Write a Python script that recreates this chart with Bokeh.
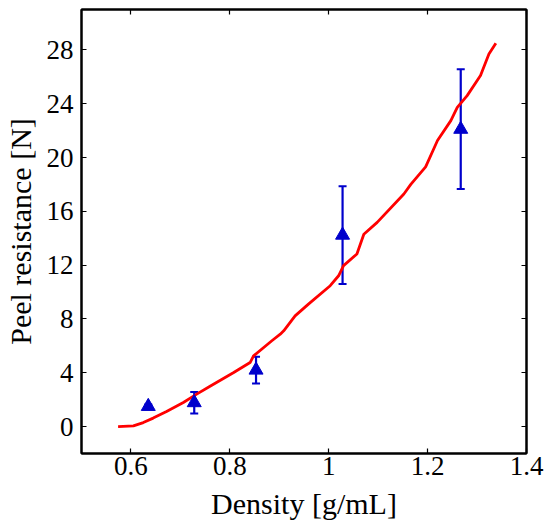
from bokeh.plotting import figure
from bokeh.models import (LinearAxis, FixedTicker, CustomJSTickFormatter, Whisker,
                          ColumnDataSource, Range1d, TeeHead)
from bokeh.embed import file_html
from bokeh.resources import INLINE

# measured data (triangles with error bars)
density = [0.635, 0.728, 0.853, 1.028, 1.267]
peel = [1.5, 1.78, 4.2, 14.23, 22.1]
peel_err = [0.15, 0.8, 1.0, 3.63, 4.45]

# model curve (red)
curve_density = [0.574, 0.605, 0.625, 0.645, 0.672, 0.706, 0.733, 0.760, 0.807,
                 0.841, 0.848, 0.885, 0.902, 0.909, 0.932, 0.959, 1.003, 1.020,
                 1.030, 1.057, 1.071, 1.098, 1.152, 1.166, 1.196, 1.220, 1.247,
                 1.260, 1.280, 1.307, 1.324, 1.338]
curve_peel = [0.0, 0.05, 0.3, 0.63, 1.12, 1.79, 2.41, 3.0, 4.0,
              4.76, 5.26, 6.38, 6.87, 7.12, 8.23, 9.10, 10.47, 11.21,
              11.96, 12.83, 14.30, 15.18, 17.29, 18.0, 19.3, 21.26, 22.74,
              23.73, 24.6, 26.1, 27.7, 28.5]

x_ticks = [0.6, 0.8, 1.0, 1.2, 1.4]
y_ticks = [0, 4, 8, 12, 16, 20, 24, 28]

FONT = "Liberation Serif"
BLUE = "#0000cc"
RED = "#ff0000"

p = figure(width=550, height=529, output_backend="svg", toolbar_location=None,
           x_range=Range1d(0.5, 1.4), y_range=Range1d(-2, 31),
           min_border_left=81, min_border_right=24, min_border_top=9,
           min_border_bottom=76)
p.grid.visible = False
p.outline_line_color = "black"
p.outline_line_width = 2
p.background_fill_color = "white"
p.border_fill_color = "white"

xa = p.xaxis[0]
ya = p.yaxis[0]
xa.ticker = FixedTicker(ticks=x_ticks)
xa.formatter = CustomJSTickFormatter(code="return String(Math.round(tick*10)/10);")
xa.axis_label = "Density [g/mL]"
ya.ticker = FixedTicker(ticks=y_ticks)
ya.axis_label = "Peel resistance [N]"

for ax in (xa, ya):
    ax.major_tick_in = 5
    ax.major_tick_out = 0
    ax.minor_tick_in = 0
    ax.minor_tick_out = 0
    ax.major_tick_line_width = 1.2
    ax.major_tick_line_color = "black"
    ax.axis_line_width = 2
    ax.axis_line_color = "black"
    ax.major_label_text_font = FONT
    ax.major_label_text_font_size = "27px"
    ax.major_label_text_color = "black"
    ax.axis_label_text_font = FONT
    ax.axis_label_text_font_size = "30px"
    ax.axis_label_text_font_style = "normal"
    ax.axis_label_text_color = "black"

xa.major_label_standoff = 3
xa.axis_label_standoff = 9
ya.major_label_standoff = 8
ya.axis_label_standoff = 7

# mirrored ticks on top and right (no labels)
for loc, ticks in (("above", x_ticks), ("right", y_ticks)):
    ax = LinearAxis(ticker=FixedTicker(ticks=ticks), major_tick_in=5, major_tick_out=0,
                    minor_tick_in=0, minor_tick_out=0,
                    formatter=CustomJSTickFormatter(code="return '';"),
                    major_label_text_font_size="1px", major_label_standoff=0,
                    axis_line_width=2, axis_line_color="black",
                    major_tick_line_color="black", major_tick_line_width=1.2)
    p.add_layout(ax, loc)

p.line(curve_density, curve_peel, line_color=RED, line_width=2.8)

src = ColumnDataSource(dict(x=density, y=peel,
                            lower=[v - e for v, e in zip(peel, peel_err)],
                            upper=[v + e for v, e in zip(peel, peel_err)]))
w = Whisker(source=src, base="x", lower="lower", upper="upper", dimension="height",
            line_color=BLUE, line_width=2.2,
            upper_head=TeeHead(size=8, line_color=BLUE, line_width=2),
            lower_head=TeeHead(size=8, line_color=BLUE, line_width=2))
p.add_layout(w)
p.scatter("x", "y", source=src, marker="triangle", size=14, fill_color=BLUE,
          line_color=BLUE, line_width=1)

open("out.html", "w").write(file_html(p, INLINE))
